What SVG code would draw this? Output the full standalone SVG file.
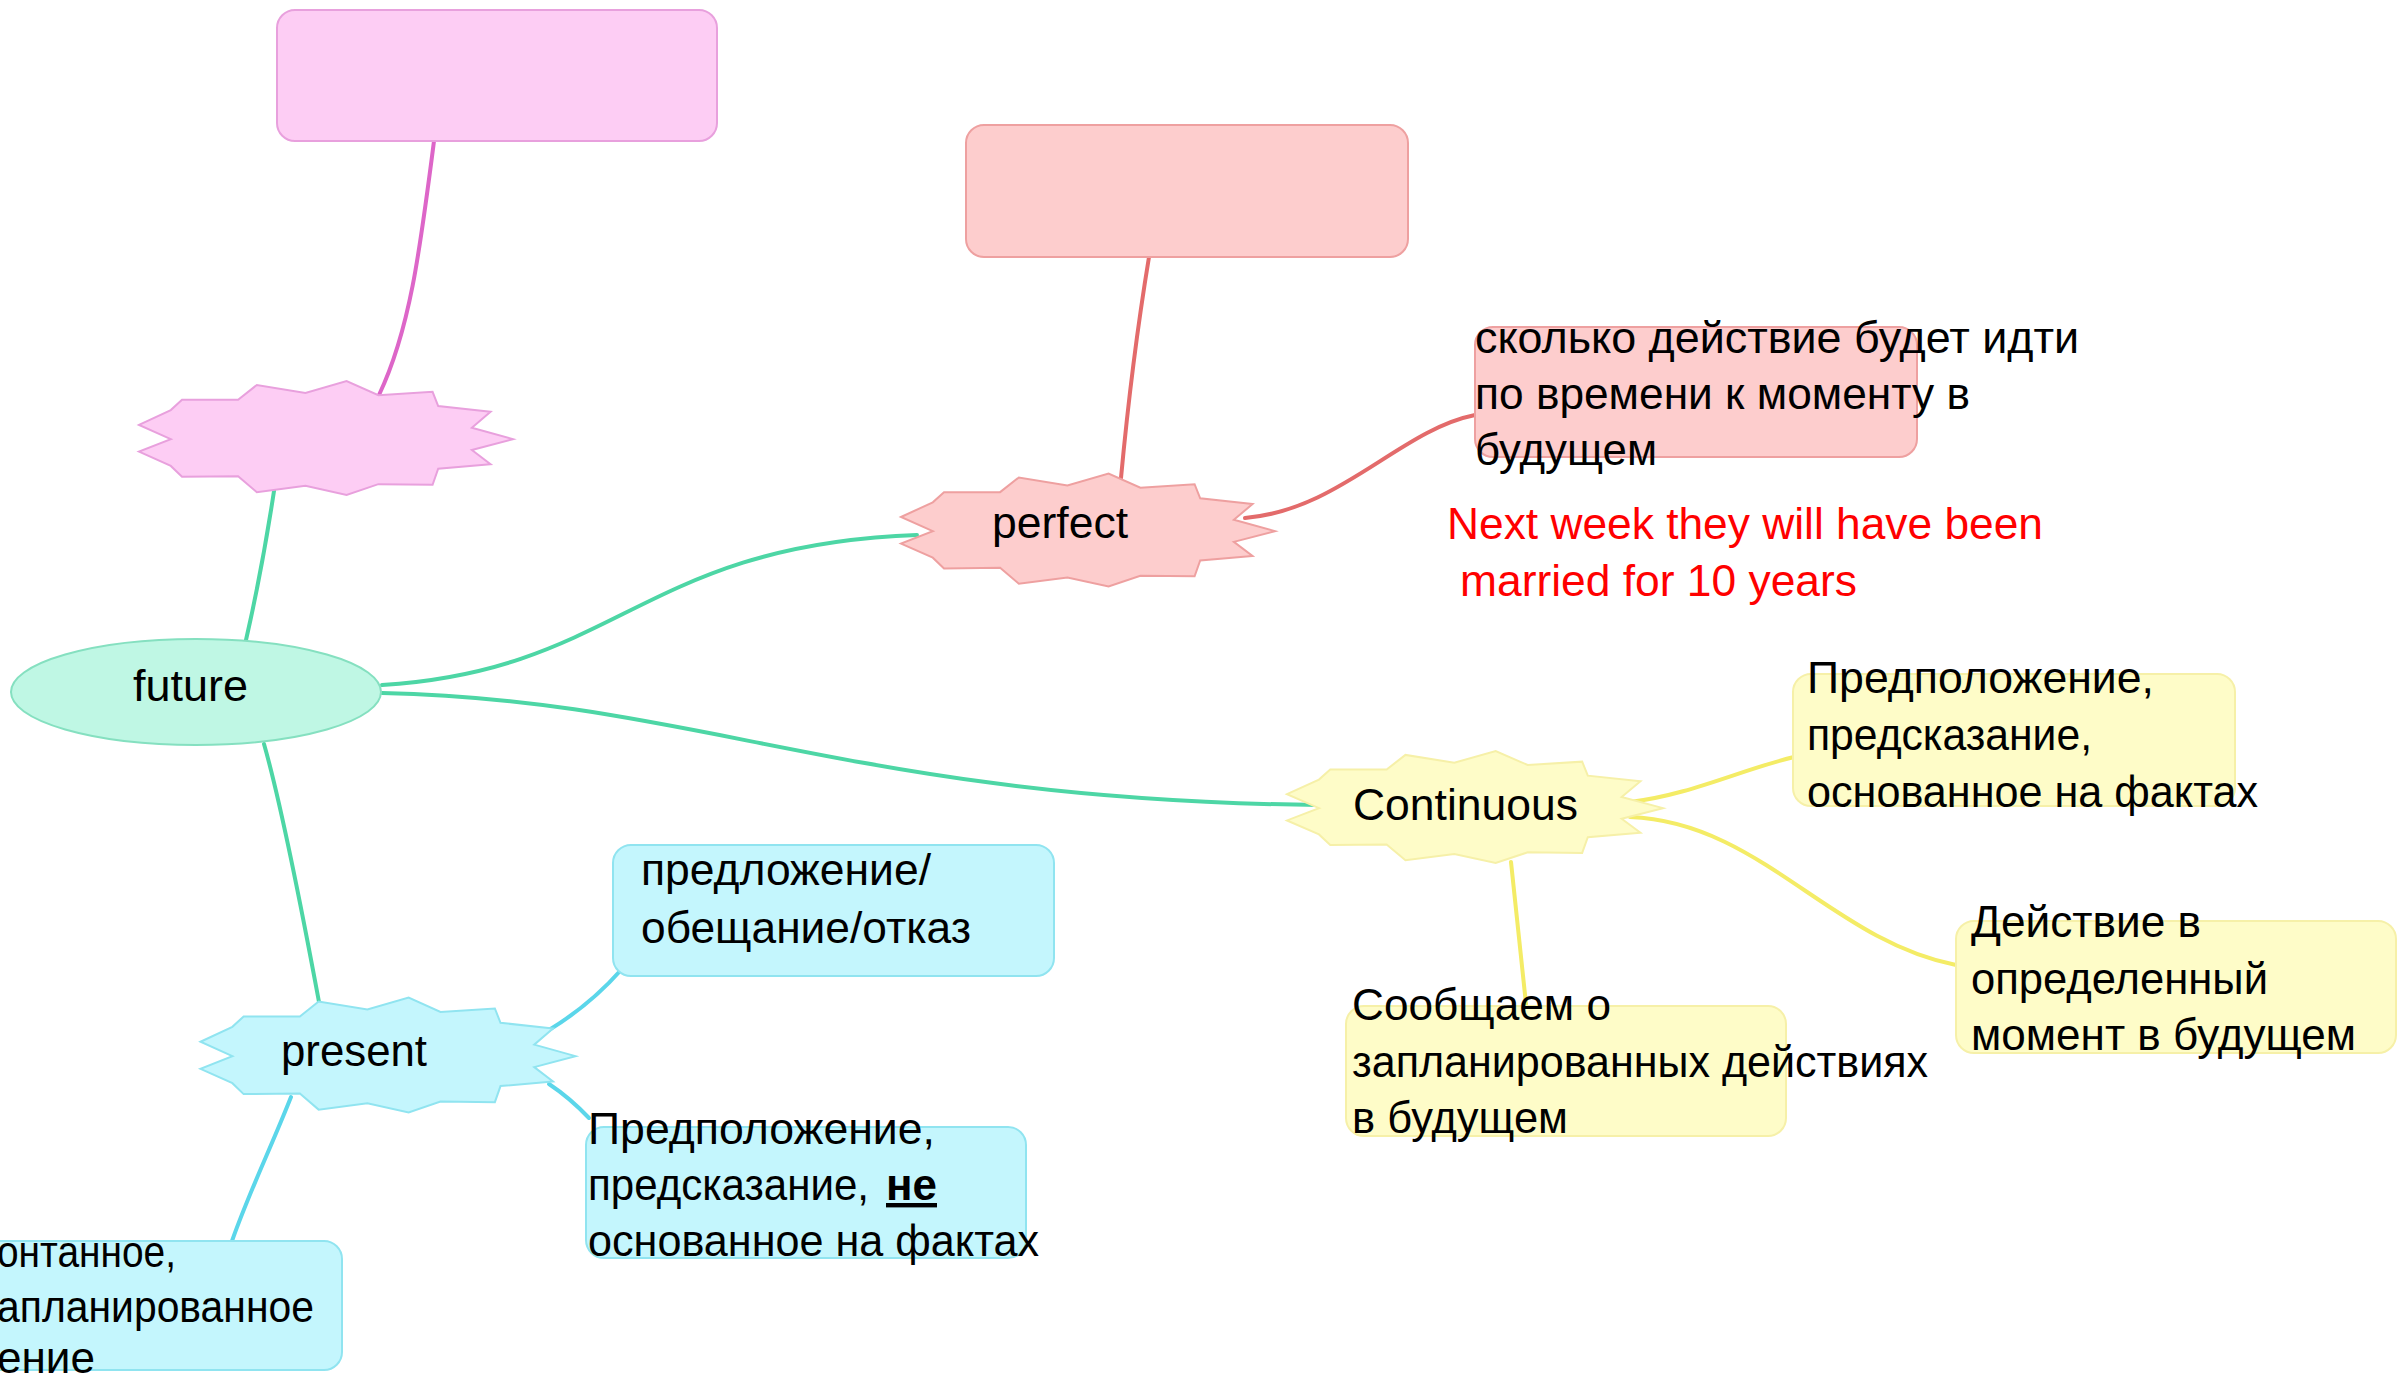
<svg xmlns="http://www.w3.org/2000/svg" xmlns:xlink="http://www.w3.org/1999/xlink" width="2404" height="1387" viewBox="0 0 2404 1387">
<style>
  text { font-family: "Liberation Sans", Arial, sans-serif; font-size: 44px; fill: #000; }
  .red { fill: #ff0000; }
  .pink { fill: #fdcdf4; stroke: #e8a0dd; stroke-width: 2; }
  .salmon { fill: #fdcdcd; stroke: #eea0a0; stroke-width: 2; }
  .green { fill: #bff7e4; stroke: #85e0c0; stroke-width: 2; }
  .yellow { fill: #fefcc8; stroke: #f6f0a8; stroke-width: 2; }
  .blue { fill: #c4f6fd; stroke: #90e4f0; stroke-width: 2; }
  .star { vector-effect: non-scaling-stroke; }
  .c { fill: none; stroke-linecap: round; }
  .cg { stroke: #4dd6a5; stroke-width: 4; }
  .cp { stroke: #dd66c8; stroke-width: 4; }
  .cs { stroke: #e36b6b; stroke-width: 4; }
  .cy { stroke: #f4ec66; stroke-width: 4; }
  .cb { stroke: #5bd6ea; stroke-width: 4; }
</style>
<defs>
  <path id="starShape" class="star" d="M-100,-23 L-83,-49 L-77,-67 L-47,-67 L-37,-93 L-11,-79 L11,-100 L28,-75 L57,-81 L60,-56 L88,-46 L78,-18 L100,2 L78,21 L88,46 L60,54 L57,82 L28,81 L11,100 L-11,84 L-37,95 L-47,67 L-77,68 L-83,49 L-100,24 L-83,2 Z"/>
</defs>
<rect width="2404" height="1387" fill="#ffffff"/>

<g id="connectors">
  <path class="c cp" d="M434,141 C420,250 410,330 379,395"/>
  <path class="c cg" d="M246,640 Q262,570 274,491"/>
  <path class="c cg" d="M382,685 C620,670 640,545 917,535"/>
  <path class="c cg" d="M382,693 C700,700 850,800 1319,805"/>
  <path class="c cg" d="M264,744 C280,800 300,900 319,1002"/>
  <path class="c cs" d="M1149,257 Q1132,360 1121,478"/>
  <path class="c cs" d="M1245,518 C1340,510 1400,430 1475,415"/>
  <path class="c cy" d="M1630,802 C1690,795 1740,770 1794,757"/>
  <path class="c cy" d="M1630,817 C1760,822 1830,940 1956,965"/>
  <path class="c cy" d="M1511,862 Q1518,930 1526,1004"/>
  <path class="c cb" d="M549,1030 Q590,1005 621,970"/>
  <path class="c cb" d="M549,1084 Q570,1098 589,1118"/>
  <path class="c cb" d="M291,1097 C270,1150 250,1190 232,1241"/>
</g>

<g id="pink-box">
  <rect class="pink" x="277" y="10" width="440" height="131" rx="18"/>
</g>
<g id="pink-star">
  <use xlink:href="#starShape" class="pink" transform="translate(326,438) scale(1.87,0.57)"/>
</g>

<g id="future">
  <ellipse class="green" cx="196" cy="692" rx="185" ry="53"/>
  <text x="133" y="701" textLength="115" lengthAdjust="spacingAndGlyphs">future</text>
</g>

<g id="perfect-box">
  <rect class="salmon" x="966" y="125" width="442" height="132" rx="18"/>
</g>
<g id="perfect">
  <use xlink:href="#starShape" class="salmon" transform="translate(1088,530) scale(1.87,0.565)"/>
  <text x="992" y="538" textLength="136" lengthAdjust="spacingAndGlyphs">perfect</text>
</g>
<g id="perfect-note">
  <rect class="salmon" x="1475" y="327" width="442" height="130" rx="18"/>
  <text x="1475" y="353" textLength="604" lengthAdjust="spacingAndGlyphs">сколько действие будет идти</text>
  <text x="1475" y="409" textLength="495" lengthAdjust="spacingAndGlyphs">по времени к моменту в</text>
  <text x="1475" y="465" textLength="182" lengthAdjust="spacingAndGlyphs">будущем</text>
</g>
<g id="perfect-example">
  <text class="red" x="1447" y="539" textLength="596" lengthAdjust="spacingAndGlyphs">Next week they will have been</text>
  <text class="red" x="1460" y="596" textLength="397" lengthAdjust="spacingAndGlyphs">married for 10 years</text>
</g>

<g id="continuous">
  <use xlink:href="#starShape" class="yellow" transform="translate(1475,807) scale(1.88,0.56)"/>
  <text x="1353" y="820" textLength="225" lengthAdjust="spacingAndGlyphs">Continuous</text>
</g>
<g id="cont-1">
  <rect class="yellow" x="1793" y="674" width="442" height="132" rx="18"/>
  <text x="1807" y="693" textLength="347" lengthAdjust="spacingAndGlyphs">Предположение,</text>
  <text x="1807" y="750" textLength="285" lengthAdjust="spacingAndGlyphs">предсказание,</text>
  <text x="1807" y="807" textLength="451" lengthAdjust="spacingAndGlyphs">основанное на фактах</text>
</g>
<g id="cont-2">
  <rect class="yellow" x="1956" y="921" width="440" height="132" rx="18"/>
  <text x="1971" y="937" textLength="230" lengthAdjust="spacingAndGlyphs">Действие в</text>
  <text x="1971" y="994" textLength="297" lengthAdjust="spacingAndGlyphs">определенный</text>
  <text x="1971" y="1050" textLength="385" lengthAdjust="spacingAndGlyphs">момент в будущем</text>
</g>
<g id="cont-3">
  <rect class="yellow" x="1346" y="1006" width="440" height="130" rx="18"/>
  <text x="1352" y="1020" textLength="259" lengthAdjust="spacingAndGlyphs">Сообщаем о</text>
  <text x="1352" y="1077" textLength="576" lengthAdjust="spacingAndGlyphs">запланированных действиях</text>
  <text x="1352" y="1133" textLength="216" lengthAdjust="spacingAndGlyphs">в будущем</text>
</g>

<g id="present">
  <use xlink:href="#starShape" class="blue" transform="translate(388,1055) scale(1.875,0.575)"/>
  <text x="281" y="1066" textLength="146" lengthAdjust="spacingAndGlyphs">present</text>
</g>
<g id="present-1">
  <rect class="blue" x="613" y="845" width="441" height="131" rx="18"/>
  <text x="641" y="885" textLength="290" lengthAdjust="spacingAndGlyphs">предложение/</text>
  <text x="641" y="943" textLength="330" lengthAdjust="spacingAndGlyphs">обещание/отказ</text>
</g>
<g id="present-2">
  <rect class="blue" x="586" y="1127" width="440" height="131" rx="18"/>
  <text x="588" y="1144" textLength="347" lengthAdjust="spacingAndGlyphs">Предположение,</text>
  <text x="588" y="1200" textLength="281" lengthAdjust="spacingAndGlyphs">предсказание,</text>
  <text x="886" y="1200" textLength="51" lengthAdjust="spacingAndGlyphs" font-weight="bold" text-decoration="underline">не</text>
  <text x="588" y="1256" textLength="451" lengthAdjust="spacingAndGlyphs">основанное на фактах</text>
</g>
<g id="present-3">
  <rect class="blue" x="-100" y="1241" width="442" height="129" rx="18"/>
  <text x="-3" y="1267" textLength="179" lengthAdjust="spacingAndGlyphs">онтанное,</text>
  <text x="-3" y="1322" textLength="317" lengthAdjust="spacingAndGlyphs">апланированное</text>
  <text x="-3" y="1373" textLength="98" lengthAdjust="spacingAndGlyphs">ение</text>
</g>
</svg>
